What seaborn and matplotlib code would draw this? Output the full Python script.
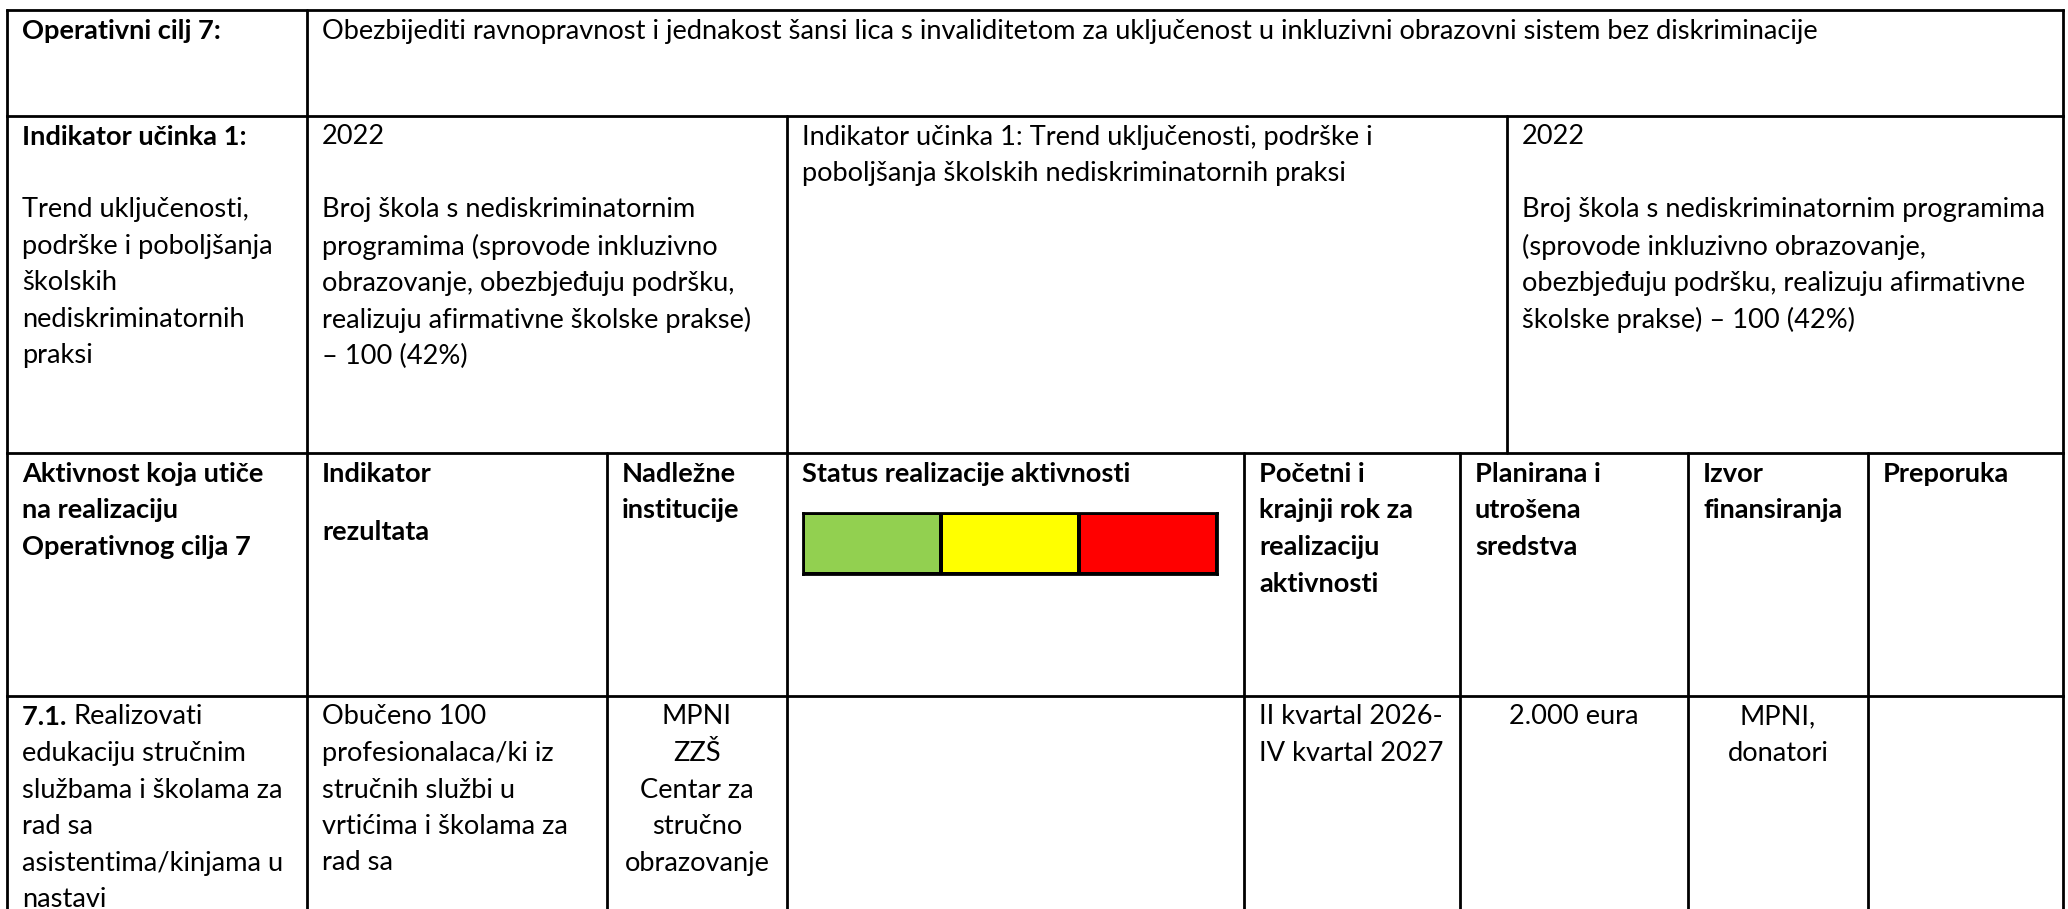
import numpy as np
import matplotlib
matplotlib.use("Agg")
import matplotlib.pyplot as plt
from matplotlib.colors import ListedColormap
import seaborn as sns

sns.set_theme(style="white")
plt.rcParams['font.family'] = ['Lato', 'DejaVu Sans']

# ---------------- data (texts of the table) ----------------
goal_label = "Operativni cilj 7:"
goal_text = ("Obezbijediti ravnopravnost i jednakost šansi lica s invaliditetom za "
             "uključenost u inkluzivni obrazovni sistem bez diskriminacije")

indicator_label = "Indikator učinka 1:"
indicator_desc = ["", "Trend uključenosti,", "podrške i poboljšanja", "školskih",
                  "nediskriminatornih", "praksi"]
baseline_left = ["2022", "", "Broj škola s nediskriminatornim", "programima (sprovode inkluzivno",
                 "obrazovanje, obezbjeđuju podršku,", "realizuju afirmativne školske prakse)",
                 "– 100 (42%)"]
indicator_mid = ["Indikator učinka 1: Trend uključenosti, podrške i",
                 "poboljšanja školskih nediskriminatornih praksi"]
baseline_right = ["2022", "", "Broj škola s nediskriminatornim programima",
                  "(sprovode inkluzivno obrazovanje,",
                  "obezbjeđuju podršku, realizuju afirmativne",
                  "školske prakse) – 100 (42%)"]

header_cells = [
    ["Aktivnost koja utiče", "na realizaciju", "Operativnog cilja 7"],
    ["Indikator", None, "rezultata"],
    ["Nadležne", "institucije"],
    ["Status realizacije aktivnosti"],
    ["Početni i", "krajnji rok za", "realizaciju", "aktivnosti"],
    ["Planirana i", "utrošena", "sredstva"],
    ["Izvor", "finansiranja"],
    ["Preporuka"],
]

status_labels = ["realizovano", "djelimično", "nije realizovano"]
status_codes = [0, 1, 2]
status_colors = ["#92D050", "#FFFF00", "#FF0000"]

activity_cells = [
    ["Realizovati", "edukaciju stručnim", "službama i školama za", "rad sa",
     "asistentima/kinjama u", "nastavi"],
    ["Obučeno 100", "profesionalaca/ki iz", "stručnih službi u", "vrtićima i školama za", "rad sa"],
    ["MPNI", "ZZŠ", "Centar za", "stručno", "obrazovanje"],
    [],
    ["II kvartal 2026-", "IV kvartal 2027"],
    ["2.000 eura"],
    ["MPNI,", "donatori"],
    [],
]
activity_number = "7.1."
activity_align = ["left", "left", "center", "left", "left", "center", "center", "left"]

# ---------------- layout ----------------
W, H = 2068, 909
fig = plt.figure(figsize=(W / 100, H / 100), dpi=100)
ax = fig.add_axes([0, 0, 1, 1])
ax.set_xlim(0, W)
ax.set_ylim(H, 0)
ax.axis("off")

LW = 2.0
rows_y = [10, 116, 453, 696]
xL, xR = 7, 2063
top_cols = [xL, 307, 787, 1507, xR]
bot_cols = [xL, 307, 607, 787, 1244, 1460, 1688, 1868, xR]

for y in rows_y:
    ax.plot([xL, xR], [y, y], color="black", lw=LW, solid_capstyle="projecting")
ax.plot([xL, xL], [rows_y[0], H], color="black", lw=LW)
ax.plot([xR, xR], [rows_y[0], H], color="black", lw=LW)
ax.plot([top_cols[1]] * 2, [rows_y[0], rows_y[2]], color="black", lw=LW)
for x in top_cols[2:4]:
    ax.plot([x, x], [rows_y[1], rows_y[2]], color="black", lw=LW)
for x in bot_cols[1:-1]:
    ax.plot([x, x], [rows_y[2], H], color="black", lw=LW)

FS = 19.6
LS = 36.5
PAD = 15
FIRST = 21


def put_lines(x0, x1, ytop, lines, align="left", weight="normal", start=0.0):
    for i, t in enumerate(lines):
        if t is None or t == "":
            continue
        y = ytop + FIRST + (start + i) * LS
        if align == "left":
            ax.text(x0 + PAD, y, t, ha="left", va="center", fontsize=FS, weight=weight, color="black")
        else:
            ax.text((x0 + x1) / 2, y, t, ha="center", va="center", fontsize=FS, weight=weight, color="black")


# row 1
put_lines(top_cols[0], top_cols[1], rows_y[0], [goal_label], weight="bold")
put_lines(top_cols[1], xR, rows_y[0], [goal_text])

# row 2
put_lines(top_cols[0], top_cols[1], rows_y[1], [indicator_label], weight="bold")
put_lines(top_cols[0], top_cols[1], rows_y[1], indicator_desc, start=1)
put_lines(top_cols[1], top_cols[2], rows_y[1], baseline_left)
put_lines(top_cols[2], top_cols[3], rows_y[1], indicator_mid)
put_lines(top_cols[3], top_cols[4], rows_y[1], baseline_right)

# row 3 (headers)
for c, lines in enumerate(header_cells):
    x0, x1 = bot_cols[c], bot_cols[c + 1]
    if c == 1:
        put_lines(x0, x1, rows_y[2], [lines[0]], weight="bold")
        put_lines(x0, x1, rows_y[2], [lines[2]], weight="bold", start=1.6)
    else:
        put_lines(x0, x1, rows_y[2], lines, weight="bold")

# row 4 (activity)
for c, lines in enumerate(activity_cells):
    x0, x1 = bot_cols[c], bot_cols[c + 1]
    lines_to_draw = [""] + lines[1:] if c == 0 else lines
    put_lines(x0, x1, rows_y[3], lines_to_draw, align=activity_align[c])

# bold "7.1." prefix followed by normal text
y71 = rows_y[3] + FIRST
t_num = ax.text(bot_cols[0] + PAD, y71, activity_number + " ", ha="left", va="center",
                fontsize=FS, weight="bold", color="black")
fig.canvas.draw()
bb = t_num.get_window_extent()
ax.text(bb.x1, y71, activity_cells[0][0], ha="left", va="center", fontsize=FS, color="black")

# status colour bar drawn with seaborn heatmap
bx0, bx1, by0, by1 = 803, 1217, 513, 574
hax = fig.add_axes([bx0 / W, 1 - by1 / H, (bx1 - bx0) / W, (by1 - by0) / H])
sns.heatmap(np.array([status_codes]), cmap=ListedColormap(status_colors), cbar=False,
            linewidths=1.5, linecolor="black", ax=hax, xticklabels=False, yticklabels=False,
            vmin=-0.5, vmax=2.5)
for s in hax.spines.values():
    s.set_visible(True)
    s.set_color("black")
    s.set_linewidth(2)

fig.savefig("out.png", dpi=100, facecolor="white")
